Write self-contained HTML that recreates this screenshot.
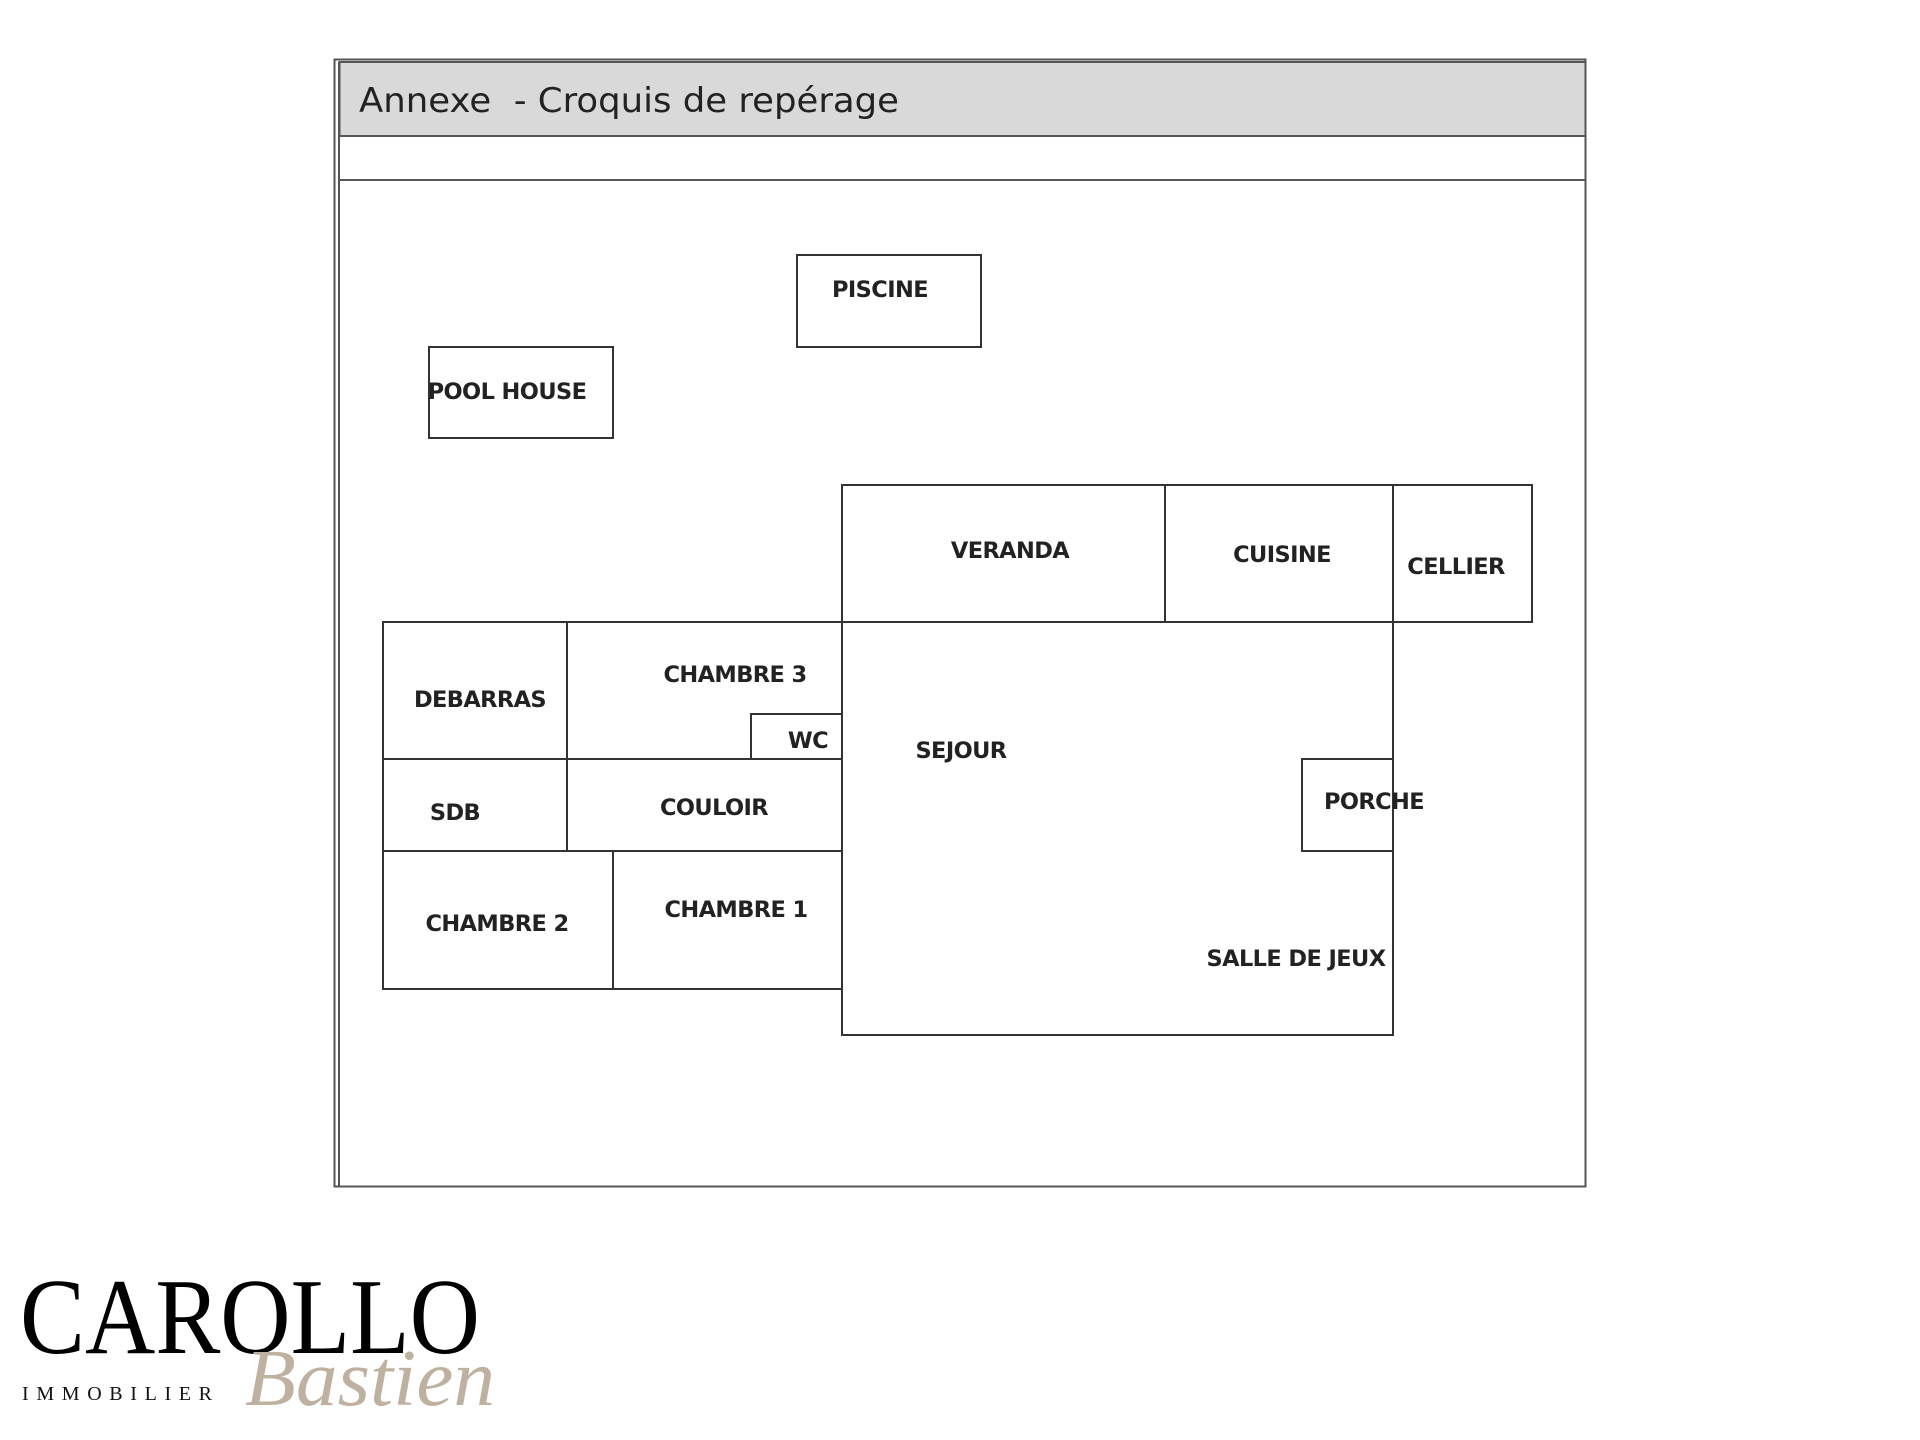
<!DOCTYPE html>
<html><head><meta charset="utf-8"><style>
html,body{margin:0;padding:0;background:#fff;}
svg{display:block;}
.l{font-family:"DejaVu Sans","Liberation Sans",sans-serif;font-weight:bold;font-size:22.5px;fill:#222;text-anchor:middle;dominant-baseline:central;letter-spacing:-0.6px;}
</style></head><body>
<svg width="1920" height="1440" viewBox="0 0 1920 1440" xmlns="http://www.w3.org/2000/svg">
<rect x="0" y="0" width="1920" height="1440" fill="#fff"/>
<rect x="334.5" y="59.5" width="1251" height="1127" fill="#fff" stroke="#555" stroke-width="2"/>
<rect x="339.5" y="62" width="1246" height="74" fill="#d9d9d9" stroke="#555" stroke-width="2"/>
<line x1="339" y1="62" x2="339" y2="1187" stroke="#555" stroke-width="2"/>
<line x1="339" y1="180" x2="1586" y2="180" stroke="#555" stroke-width="2"/>
<text x="359" y="101" font-family="DejaVu Sans, Liberation Sans, sans-serif" font-size="34" fill="#222" dominant-baseline="central" textLength="540" lengthAdjust="spacingAndGlyphs">Annexe&#160;&#160;- Croquis de repérage</text>
<g fill="none" stroke="#333" stroke-width="2">
<rect x="797" y="255" width="184" height="92"/>
<rect x="429" y="347" width="184" height="91"/>
<rect x="842" y="485" width="323" height="137"/>
<rect x="1165" y="485" width="228" height="137"/>
<rect x="1393" y="485" width="139" height="137"/>
<rect x="842" y="622" width="551" height="413"/>
<rect x="1302" y="759" width="91" height="92"/>
<rect x="383" y="622" width="184" height="137"/>
<rect x="567" y="622" width="275" height="137"/>
<rect x="751" y="714" width="91" height="45"/>
<rect x="383" y="759" width="184" height="92"/>
<rect x="567" y="759" width="275" height="92"/>
<rect x="383" y="851" width="230" height="138"/>
<rect x="613" y="851" width="229" height="138"/>
</g>
<text class="l" x="880" y="290">PISCINE</text>
<text class="l" x="507" y="392">POOL HOUSE</text>
<text class="l" x="1010" y="551">VERANDA</text>
<text class="l" x="1282" y="555">CUISINE</text>
<text class="l" x="1456" y="567">CELLIER</text>
<text class="l" x="480" y="700">DEBARRAS</text>
<text class="l" x="735" y="675">CHAMBRE 3</text>
<text class="l" x="808" y="741">WC</text>
<text class="l" x="961" y="751">SEJOUR</text>
<text class="l" x="455" y="813">SDB</text>
<text class="l" x="714" y="808">COULOIR</text>
<text class="l" x="1374" y="802">PORCHE</text>
<text class="l" x="497" y="924">CHAMBRE 2</text>
<text class="l" x="736" y="910">CHAMBRE 1</text>
<text class="l" x="1296" y="959">SALLE DE JEUX</text>
<text x="20" y="1353" font-family="Liberation Serif, serif" font-size="108" fill="#000" textLength="460" lengthAdjust="spacingAndGlyphs">CAROLLO</text>
<text x="22" y="1400" font-family="Liberation Serif, serif" font-size="20" fill="#111" textLength="190" lengthAdjust="spacing">IMMOBILIER</text>
<text x="245" y="1405" font-family="Liberation Serif, serif" font-style="italic" font-size="80" fill="#bfb1a0" textLength="250" lengthAdjust="spacingAndGlyphs">Bastien</text>
</svg>
</body></html>
